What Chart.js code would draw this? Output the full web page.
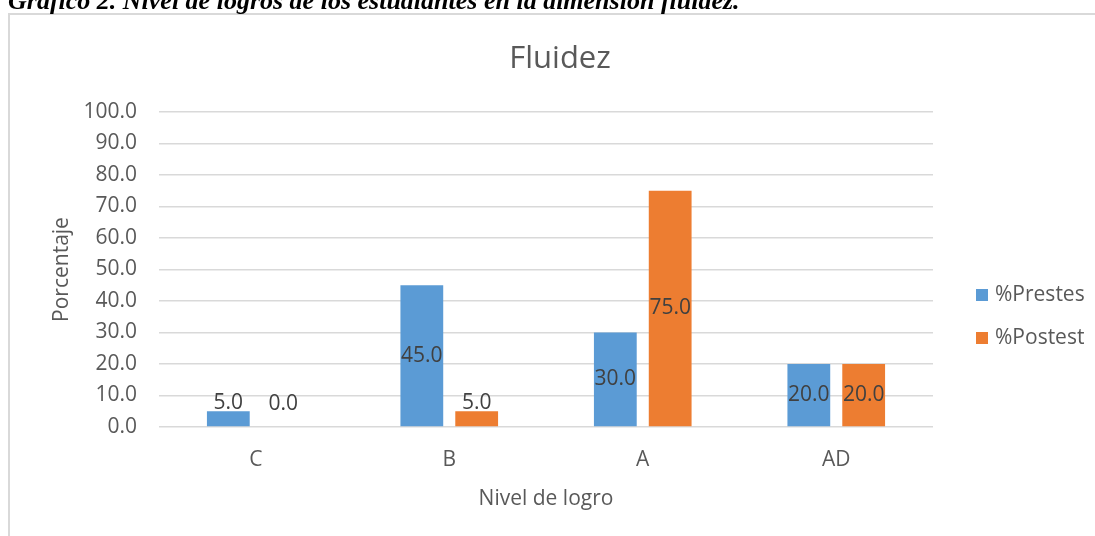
<!DOCTYPE html>
<html>
<head>
<meta charset="utf-8">
<script src="https://cdn.jsdelivr.net/npm/chart.js@4"></script>
<style>
  html, body { margin: 0; padding: 0; background: #fff; overflow: hidden; }
  #caption {
    position: absolute; left: 8px; top: -12px; z-index: 2;
    font: italic bold 26px "Liberation Serif", "Times New Roman", serif;
    line-height: 26px; white-space: nowrap; color: #000;
  }
  #wrap { position: absolute; left: 0; top: 0; width: 1095px; height: 536px; }
</style>
</head>
<body>
<div id="caption">Gráfico 2. Nivel de logros de los estudiantes en la dimensión fluidez.</div>
<div id="wrap"><canvas id="chart" width="1095" height="536"></canvas></div>
<script>
// Datos del gráfico
const categorias = ['C', 'B', 'A', 'AD'];
const pretest = [5.0, 45.0, 30.0, 20.0];
const postest = [0.0, 5.0, 75.0, 20.0];
const nombresSeries = ['%Prestes', '%Postest'];
const coloresSeries = ['#5b9bd5', '#ed7d31'];
const tituloGrafico = 'Fluidez';

const fuente = '"Open Sans", "DejaVu Sans", sans-serif';
const gris = '#595959';

// Marco del gráfico (borde gris claro) y título centrado en todo el marco
const marco = {
  id: 'marco',
  beforeDraw(chart) {
    const ctx = chart.ctx;
    ctx.save();
    ctx.strokeStyle = '#d9d9d9';
    ctx.lineWidth = 2;
    ctx.strokeRect(9, 14, 2000, 2000);
    ctx.font = '31px ' + fuente;
    ctx.fillStyle = gris;
    ctx.textAlign = 'center';
    ctx.textBaseline = 'middle';
    ctx.fillText(tituloGrafico, 560, 59);
    ctx.restore();
  }
};

// Etiquetas de datos centradas en cada barra
const etiquetas = {
  id: 'etiquetas',
  afterDatasetsDraw(chart) {
    const ctx = chart.ctx;
    ctx.save();
    ctx.font = '21px ' + fuente;
    ctx.fillStyle = '#404040';
    ctx.textAlign = 'center';
    ctx.textBaseline = 'middle';
    chart.data.datasets.forEach((ds, i) => {
      chart.getDatasetMeta(i).data.forEach((bar, j) => {
        const centro = (bar.y + bar.base) / 2;
        const y = Math.min(centro, bar.base - 23);
        ctx.fillText(ds.data[j].toFixed(1), bar.x, y);
      });
    });
    ctx.restore();
  }
};

// Leyenda a la derecha
const leyenda = {
  id: 'leyenda',
  afterDraw(chart) {
    const ctx = chart.ctx;
    ctx.save();
    ctx.font = '21px ' + fuente;
    ctx.textBaseline = 'middle';
    chart.data.datasets.forEach((ds, i) => {
      const y = 295 + i * 43;
      ctx.fillStyle = ds.backgroundColor;
      ctx.fillRect(976, y - 6, 12, 12);
      ctx.fillStyle = gris;
      ctx.fillText(ds.label, 995, y);
    });
    ctx.restore();
  }
};

new Chart(document.getElementById('chart'), {
  type: 'bar',
  data: {
    labels: categorias,
    datasets: [
      { label: nombresSeries[0], data: pretest, backgroundColor: coloresSeries[0], borderWidth: 0 },
      { label: nombresSeries[1], data: postest, backgroundColor: coloresSeries[1], borderWidth: 0 }
    ]
  },
  options: {
    responsive: false,
    animation: false,
    layout: { padding: { left: 10, right: 162, top: 112, bottom: 9 } },
    datasets: { bar: { categoryPercentage: 0.567, barPercentage: 0.78 } },
    scales: {
      y: {
        min: 0,
        max: 100,
        afterFit: s => { s.width = 149; },
        ticks: {
          stepSize: 10,
          padding: 22,
          color: gris,
          font: { family: fuente, size: 21 },
          callback: v => Number(v).toFixed(1)
        },
        grid: { color: '#d9d9d9', lineWidth: 1.5, drawTicks: false },
        border: { display: false },
        title: {
          display: true, text: 'Porcentaje', color: gris,
          font: { family: fuente, size: 21 }, padding: { top: 39, bottom: 0 }
        }
      },
      x: {
        afterFit: s => { s.height = 100; },
        ticks: { padding: 12, color: gris, font: { family: fuente, size: 21 } },
        grid: { display: false },
        border: { display: false },
        title: {
          display: true, text: 'Nivel de logro', color: gris,
          font: { family: fuente, size: 21 }, padding: { top: 0, bottom: 15 }
        }
      }
    },
    plugins: {
      legend: { display: false },
      tooltip: { enabled: false },
      title: { display: false }
    }
  },
  plugins: [marco, etiquetas, leyenda]
});
</script>
</body>
</html>
